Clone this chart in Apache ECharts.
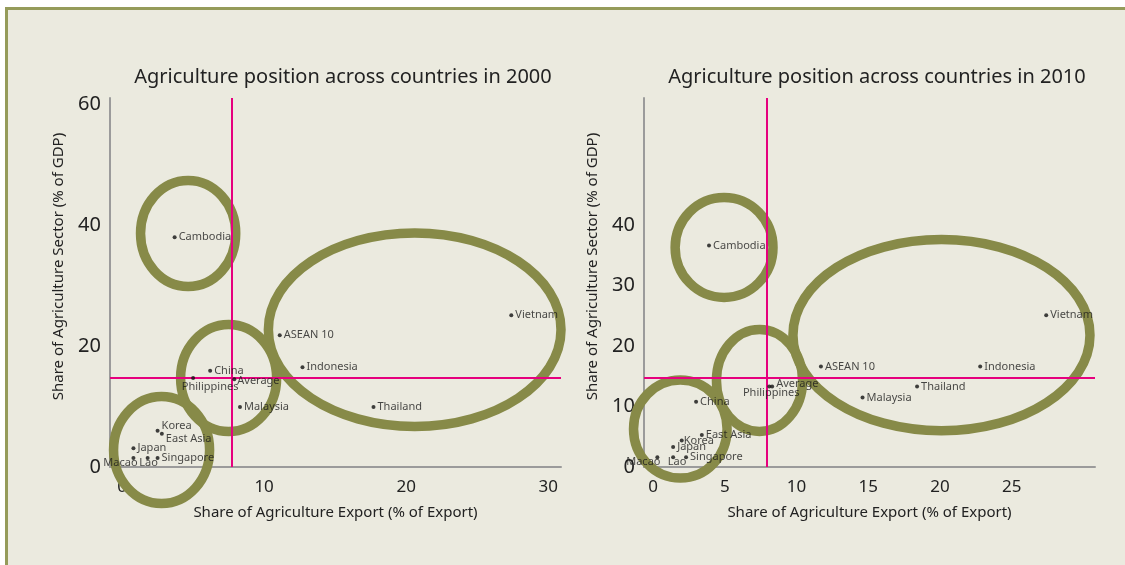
<!DOCTYPE html>
<html><head><meta charset="utf-8">
<script src="https://cdn.jsdelivr.net/npm/echarts@6/dist/echarts.min.js"></script>
<style>html,body{margin:0;padding:0;background:#fff}#c{width:1125px;height:565px}</style>
</head><body><div id="c"></div>
<script>
// ---- data ----
const titles = ['Agriculture position across countries in 2000', 'Agriculture position across countries in 2010'];
const xName = 'Share of Agriculture Export (% of Export)';
const yName = 'Share of Agriculture Sector (% of GDP)';
const countries = ['Cambodia','Vietnam','ASEAN 10','Indonesia','Thailand','China','Philippines','Average','Malaysia','Korea','East Asia','Japan','Macao','Lao','Singapore'];
const export2000 = [3.7, 27.4, 11.1, 12.7, 17.7, 6.2, 5.0, 7.9, 8.3, 2.5, 2.8, 0.8, 0.8, 1.8, 2.5];
const gdp2000    = [38.0, 25.1, 21.8, 16.5, 9.9, 15.9, 14.7, 14.5, 9.9, 6.0, 5.5, 3.1, 1.5, 1.5, 1.5];
const export2010 = [3.9, 27.4, 11.7, 22.8, 18.4, 3.0, 8.1, 8.3, 14.6, 2.0, 3.4, 1.4, 0.3, 1.4, 2.3];
const gdp2010    = [36.6, 25.1, 16.6, 16.6, 13.3, 10.8, 13.3, 13.3, 11.5, 4.4, 5.3, 3.3, 1.6, 1.6, 1.6];
const average2000 = [7.7, 14.7];
const average2010 = [7.9, 14.8];
const xTicks2000 = [0, 10, 20, 30];
const xTicks2010 = [0, 5, 10, 15, 20, 25];
const yTicks2000 = [0, 20, 40, 60];
const yTicks2010 = [0, 10, 20, 30, 40];
// groupings drawn as ellipses: [centre export, centre gdp, half-width, half-height] in data units
const groups2000 = [[4.65, 38.6, 3.35, 8.76], [20.6, 22.7, 10.3, 16.0], [7.5, 14.7, 3.38, 8.84], [2.78, 2.8, 3.38, 8.84]];
const groups2010 = [[4.95, 36.3, 3.41, 8.26], [20.1, 21.8, 10.35, 15.8], [7.42, 14.3, 3.0, 8.43], [1.9, 6.28, 3.26, 8.1]];

// ---- label placement (style only) ----
const R = {align:'left', offset:[4,0]};
const labelPos2000 = {
  'Philippines': {align:'center', offset:[17,9]},
  'Korea': {align:'left', offset:[4,-5]},
  'East Asia': {align:'left', offset:[4,5]},
  'Macao': {align:'center', offset:[-13,5]},
  'Lao': {align:'center', offset:[1,5]},
  'Average': {align:'left', offset:[3,2]}
};
const labelPos2010 = {
  'Philippines': {align:'center', offset:[2,6]},
  'Average': {align:'left', offset:[4,-3]},
  'Korea': {align:'left', offset:[2,0]},
  'Macao': {align:'center', offset:[-14,5]},
  'Lao': {align:'center', offset:[4,5]}
};

const FONT = 'Noto Sans';
const TXT = '#222222';
const OLIVE = '#878a48';
const PINK = '#e6007e';
const AXIS = '#9b9b9b';

function points(xs, ys, pos){
  return countries.map((n,i)=>{
    const p = pos[n] || R;
    return {name:n, value:[xs[i], ys[i]], label:{align:p.align, offset:p.offset}};
  });
}
function ellipses(g){ return g.map(e=>({value:e})); }

const ellipseRender = function(params, api){
  const c = api.coord([api.value(0), api.value(1)]);
  const s = api.size([api.value(2), api.value(3)]);
  return {type:'ellipse', shape:{cx:c[0], cy:c[1], rx:s[0], ry:s[1]},
          style:{fill:null, stroke:OLIVE, lineWidth:9.5}};
};

function xAxis(idx, min, max, ticks){
  return {gridIndex:idx, type:'value', min:min, max:max,
    name:xName, nameLocation:'middle', nameGap:38,
    nameTextStyle:{fontFamily:FONT, fontSize:15, color:TXT},
    axisLine:{show:true, onZero:false, lineStyle:{color:AXIS, width:2}},
    axisTick:{show:false}, splitLine:{show:false},
    axisLabel:{customValues:ticks, fontFamily:FONT, fontSize:17, color:TXT, margin:12}};
}
function yAxis(idx, ticks){
  return {gridIndex:idx, type:'value', min:0, max:61,
    name:yName, nameLocation:'middle', nameGap:44,
    nameTextStyle:{fontFamily:FONT, fontSize:15, color:TXT, padding:[0,0,0,32]},
    axisLine:{show:true, onZero:false, lineStyle:{color:AXIS, width:2}},
    axisTick:{show:false}, splitLine:{show:false},
    axisLabel:{customValues:ticks, fontFamily:FONT, fontSize:20, color:TXT, margin:9}};
}
function scatter(idx, xs, ys, pos, avg){
  return {type:'scatter', xAxisIndex:idx, yAxisIndex:idx, z:4,
    data:points(xs, ys, pos), symbolSize:4, itemStyle:{color:'#111'},
    label:{show:true, position:'inside', formatter:'{b}', fontFamily:FONT, fontSize:11, color:'#1a1a1a'},
    emphasis:{disabled:true},
    markLine:{silent:true, symbol:'none', label:{show:false}, z:3,
      lineStyle:{color:PINK, width:2, type:'solid'},
      data:[{xAxis:avg[0]}, {yAxis:avg[1]}]}};
}
function groupSeries(idx, g){
  return {type:'custom', xAxisIndex:idx, yAxisIndex:idx, z:2, clip:false,
    renderItem:ellipseRender, data:ellipses(g), silent:true};
}

const chart = echarts.init(document.getElementById('c'));
chart.setOption({
  backgroundColor:'#ebeadf',
  animation:false,
  title:[
    {text:titles[0], left:343, top:67, textAlign:'center', padding:0,
     textStyle:{fontFamily:FONT, fontSize:20, fontWeight:'normal', color:TXT}},
    {text:titles[1], left:877, top:67, textAlign:'center', padding:0,
     textStyle:{fontFamily:FONT, fontSize:20, fontWeight:'normal', color:TXT}}
  ],
  graphic:[
    {type:'rect', left:0, top:0, shape:{width:1125, height:7}, style:{fill:'#fff'}, silent:true},
    {type:'rect', left:0, top:0, shape:{width:5, height:565}, style:{fill:'#fff'}, silent:true},
    {type:'rect', left:5, top:7, shape:{width:1120, height:3}, style:{fill:'#959b5a'}, silent:true},
    {type:'rect', left:5, top:7, shape:{width:3, height:558}, style:{fill:'#959b5a'}, silent:true}
  ],
  grid:[
    {left:110, right:564, top:98, bottom:98},
    {left:644, right:30, top:98, bottom:98}
  ],
  xAxis:[xAxis(0, -0.85, 30.9, xTicks2000), xAxis(1, -0.63, 30.8, xTicks2010)],
  yAxis:[yAxis(0, yTicks2000), yAxis(1, yTicks2010)],
  series:[
    groupSeries(0, groups2000),
    groupSeries(1, groups2010),
    scatter(0, export2000, gdp2000, labelPos2000, average2000),
    scatter(1, export2010, gdp2010, labelPos2010, average2010)
  ]
});
</script></body></html>
